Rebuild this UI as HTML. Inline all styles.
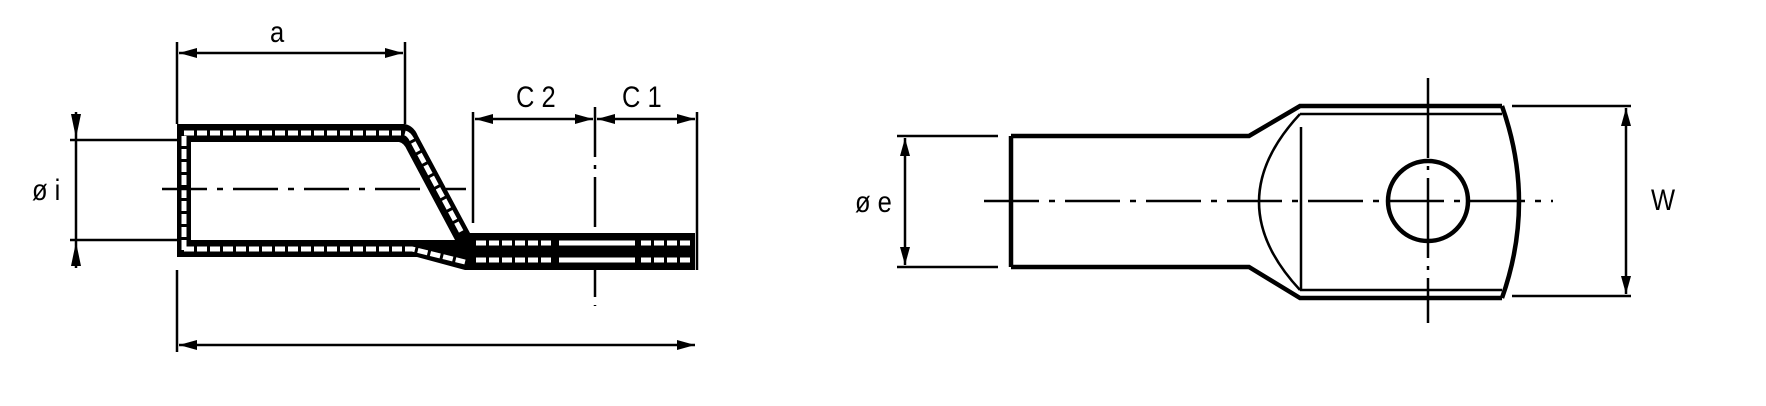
<!DOCTYPE html>
<html><head><meta charset="utf-8"><style>
html,body{margin:0;padding:0;background:#fff}
svg{display:block}
text{font-family:"Liberation Sans",sans-serif;font-size:30px;fill:#000}
</style></head><body>
<svg width="1766" height="406" viewBox="0 0 1766 406" xmlns="http://www.w3.org/2000/svg">
<defs>
<marker id="ar" viewBox="0 0 18 10" refX="18" refY="5" markerWidth="18" markerHeight="10" markerUnits="userSpaceOnUse" orient="auto-start-reverse">
<path d="M0,0 L18,5 L0,10 Z" fill="#000"/></marker>
</defs>
<g stroke="#000" fill="none" stroke-width="2.5">
 <line x1="177" y1="42" x2="177" y2="124"/>
 <line x1="405" y1="42" x2="405" y2="124"/>
 <line x1="179" y1="53" x2="403" y2="53" marker-start="url(#ar)" marker-end="url(#ar)"/>
 <line x1="473" y1="112" x2="473" y2="223"/>
 <line x1="697" y1="112" x2="697" y2="270"/>
 <line x1="475" y1="119" x2="593" y2="119" marker-start="url(#ar)" marker-end="url(#ar)"/>
 <line x1="597" y1="119" x2="695" y2="119" marker-start="url(#ar)" marker-end="url(#ar)"/>
 <line x1="595" y1="107" x2="595" y2="306" stroke-dasharray="50 8 4 8"/>
 <line x1="177" y1="270" x2="177" y2="352"/>
 <line x1="179" y1="345" x2="695" y2="345" marker-start="url(#ar)" marker-end="url(#ar)"/>
 <line x1="70" y1="140" x2="177" y2="140"/>
 <line x1="70" y1="240" x2="177" y2="240"/>
 <line x1="76" y1="112" x2="76" y2="268"/>
 <path d="M71,114 L81,114 L76,138 Z M71,266 L81,266 L76,242 Z" fill="#000" stroke="none"/>
</g>
<path d="M177,124 L405,124 Q414,126 418,136 L470,233 L695,233 L695,270 L465,270 L417,257 L177,257 Z" fill="#000"/>
<path d="M191,142 L399,142 Q404,143 407,150 L455,240 L191,240 Z" fill="#fff"/>
<g stroke="#fff" stroke-width="5" fill="none" stroke-dasharray="10 3">
 <line x1="184" y1="133" x2="401" y2="133"/>
 <path d="M405,133 Q409,134 412,140 L462,233"/>
 <line x1="184" y1="136" x2="184" y2="250"/>
 <path d="M184,249 L412,249 L465,262"/>
 <line x1="476" y1="243" x2="553" y2="243"/>
 <line x1="476" y1="260" x2="553" y2="260"/>
 <line x1="641" y1="243" x2="690" y2="243"/>
 <line x1="641" y1="260" x2="690" y2="260"/>
</g>
<g stroke="#fff" stroke-width="5">
 <line x1="559" y1="243" x2="635" y2="243"/>
 <line x1="559" y1="260" x2="635" y2="260"/>
</g>
<line x1="162" y1="189" x2="466" y2="189" stroke="#000" stroke-width="2.5" stroke-dasharray="45 10 6 10"/>
<text x="270" y="42" transform="translate(270 0) scale(0.85 1) translate(-270 0)">a</text>
<text x="516" y="107" transform="translate(516 0) scale(0.85 1) translate(-516 0)">C 2</text>
<text x="622" y="107" transform="translate(622 0) scale(0.85 1) translate(-622 0)">C 1</text>
<text x="32" y="200" transform="translate(32 0) scale(0.85 1) translate(-32 0)">ø i</text>

<g stroke="#000" fill="none">
 <path d="M1011,136 L1249,136 L1300,106 L1502,106" stroke-width="4.5"/>
 <path d="M1011,267 L1249,267 L1300,298 L1502,298" stroke-width="4.5"/>
 <line x1="1011" y1="136" x2="1011" y2="267" stroke-width="4.5"/>
 <line x1="1300" y1="114" x2="1502" y2="114" stroke-width="2.5"/>
 <line x1="1300" y1="290" x2="1502" y2="290" stroke-width="2.5"/>
 <path d="M1502,106 Q1536,202 1502,298" stroke-width="4.5"/>
 <path d="M1300,114 Q1218,202 1300,290" stroke-width="2.5"/>
 <line x1="1301" y1="127" x2="1301" y2="290" stroke-width="2.5"/>
 <circle cx="1428" cy="201" r="40" stroke-width="4.5"/>
 <line x1="1428" y1="78" x2="1428" y2="323" stroke-width="2.5" stroke-dasharray="80 8 4 8"/>
 <line x1="984" y1="201" x2="1553" y2="201" stroke-width="2.5" stroke-dasharray="55 10 6 10"/>
 <line x1="897" y1="136" x2="998" y2="136" stroke-width="2.5"/>
 <line x1="897" y1="267" x2="998" y2="267" stroke-width="2.5"/>
 <line x1="905" y1="138" x2="905" y2="265" stroke-width="2.5" marker-start="url(#ar)" marker-end="url(#ar)"/>
 <line x1="1512" y1="106" x2="1631" y2="106" stroke-width="2.5"/>
 <line x1="1512" y1="296" x2="1631" y2="296" stroke-width="2.5"/>
 <line x1="1626" y1="108" x2="1626" y2="294" stroke-width="2.5" marker-start="url(#ar)" marker-end="url(#ar)"/>
</g>
<text x="855" y="212" transform="translate(855 0) scale(0.85 1) translate(-855 0)">ø e</text>
<text x="1651" y="210" transform="translate(1651 0) scale(0.85 1) translate(-1651 0)">W</text>
</svg>
</body></html>
